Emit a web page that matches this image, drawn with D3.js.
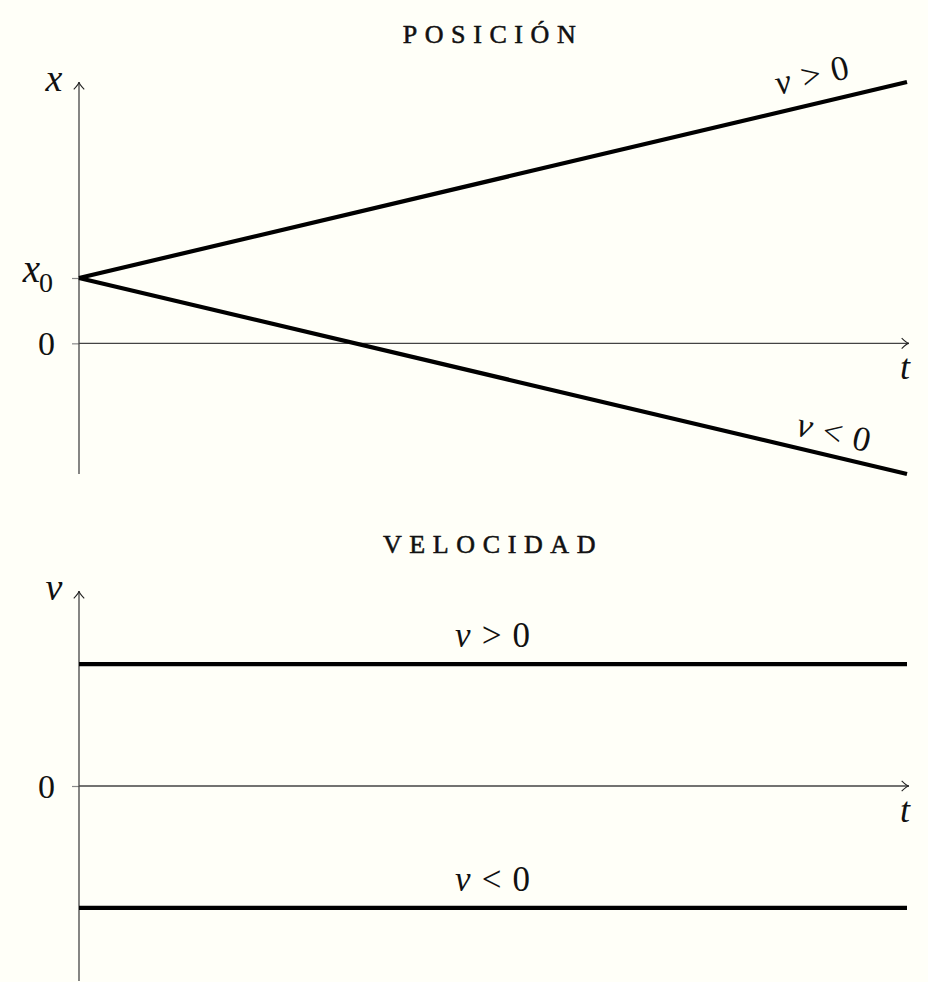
<!DOCTYPE html>
<html><head><meta charset="utf-8">
<script src="https://cdn.jsdelivr.net/npm/d3@7"></script>
<style>html,body{margin:0;padding:0;background:#fffff8;} svg{display:block;}</style></head>
<body>
<svg id="c" width="928" height="982"></svg>
<script>
// ---- data ----
const tDomain = [0, 1];
const posDomain = [-2, 4];
const velDomain = [-1.6, 1.6];
const x0Value = 1;
const posUp = [{t: 0, y: 1}, {t: 1, y: 4}];
const posDown = [{t: 0, y: 1}, {t: 1, y: -2}];
const velUp = [{t: 0, y: 1}, {t: 1, y: 1}];
const velDown = [{t: 0, y: -1}, {t: 1, y: -1}];
const posTicks = [0, 1];
const velTicks = [0];
const titles = ["posición", "velocidad"];
const seriesLabels = [">", "<"];

const FONT = "Liberation Serif";
const svg = d3.select("#c").attr("font-family", FONT).attr("fill", "#111");
const xs = d3.scaleLinear().domain(tDomain).range([79, 907]);
const yPos = d3.scaleLinear().domain(posDomain).range([474, 82]);
const yVel = d3.scaleLinear().domain(velDomain).range([981, 591]);

function txt(g) {
  return g.append("text").attr("font-family", FONT).attr("fill", "#111");
}

function arrow(g, x1, y1, x2, y2) {
  const ang = Math.atan2(y2 - y1, x2 - x1);
  g.append("line").attr("x1", x1).attr("y1", y1).attr("x2", x2).attr("y2", y2)
    .attr("stroke", "#444").attr("stroke-width", 1.3);
  const L = 9, a = 0.62;
  const p = d3.path();
  p.moveTo(x2 - L * Math.cos(ang - a), y2 - L * Math.sin(ang - a));
  p.quadraticCurveTo(x2 - 2 * Math.cos(ang), y2 - 2 * Math.sin(ang), x2, y2);
  p.quadraticCurveTo(x2 - 2 * Math.cos(ang), y2 - 2 * Math.sin(ang),
    x2 - L * Math.cos(ang + a), y2 - L * Math.sin(ang + a));
  g.append("path").attr("d", p.toString()).attr("fill", "none")
    .attr("stroke", "#222").attr("stroke-width", 1.1);
}

function relLabel(g, sym) {
  const t = txt(g).attr("text-anchor", "middle").attr("font-size", 35);
  t.append("tspan").attr("font-style", "italic").text("v");
  t.append("tspan").attr("dx", 11).text(sym);
  t.append("tspan").attr("dx", 11).text("0");
  return t;
}

function panel(ys, domain, ticks, tickLabel, yLabel, series, labelFn, title, titleY) {
  const g = svg.append("g");
  txt(g).attr("x", 493).attr("y", titleY)
    .attr("text-anchor", "middle").attr("font-size", 26)
    .attr("stroke", "#111").attr("stroke-width", 0.55)
    .attr("letter-spacing", 7.6)
    .text(title.toUpperCase());
  const ax = d3.axisLeft(ys).tickValues(ticks).tickSize(7).tickFormat("");
  const axg = g.append("g").attr("transform", `translate(${xs(0)},0)`).call(ax);
  axg.select(".domain").remove();
  axg.selectAll(".tick line").attr("stroke", "#888").attr("stroke-width", 1.2);
  ticks.forEach(v => tickLabel(g, v, ys(v)));
  arrow(g, xs(0), ys(domain[0]), xs(0), ys(domain[1]));
  arrow(g, xs(0), ys(0), xs(1) + 2, ys(0));
  txt(g).attr("x", 54).attr("y", ys(domain[1]) + 9).attr("text-anchor", "middle")
    .attr("font-size", 38).attr("font-style", "italic").text(yLabel);
  txt(g).attr("x", xs(1) - 2).attr("y", ys(0) + 36).attr("text-anchor", "middle")
    .attr("font-size", 36).attr("font-style", "italic").text("t");
  const line = d3.line().x(d => xs(d.t)).y(d => ys(d.y));
  series.forEach((s, i) => {
    g.append("path").datum(s).attr("d", line).attr("fill", "none")
      .attr("stroke", "#000").attr("stroke-width", 4.2);
    labelFn(g, s, i);
  });
}

// Position panel
panel(yPos, posDomain, posTicks,
  (g, v, y) => {
    const t = txt(g).attr("text-anchor", "end").attr("font-size", 34);
    if (v === x0Value) {
      t.attr("x", 53).attr("y", y + 4);
      t.append("tspan").attr("font-style", "italic").attr("font-size", 39).text("x");
      t.append("tspan").attr("font-size", 28).attr("dy", 10).attr("dx", -1).text("0");
    } else {
      t.attr("x", 55).attr("y", y + 12).text("0");
    }
  },
  "x", [posUp, posDown],
  (g, s, i) => {
    const ang = Math.atan2(yPos(s[1].y) - yPos(s[0].y), xs(s[1].t) - xs(s[0].t)) * 180 / Math.PI;
    const tt = i === 0 ? 0.893 : 0.905;
    const px = xs(tt), py = yPos(s[0].y + (s[1].y - s[0].y) * tt);
    relLabel(g, seriesLabels[i])
      .attr("transform", `translate(${px},${py}) rotate(${ang})`).attr("y", i === 0 ? -17 : -12);
  },
  titles[0], 43);

// Velocity panel
panel(yVel, velDomain, velTicks,
  (g, v, y) => {
    txt(g).attr("x", 55).attr("y", y + 12).attr("text-anchor", "end")
      .attr("font-size", 34).text("0");
  },
  "v", [velUp, velDown],
  (g, s, i) => {
    relLabel(g, seriesLabels[i]).attr("x", 492.5).attr("y", yVel(s[0].y) - 17);
  },
  titles[1], 553);
</script>
</body></html>
